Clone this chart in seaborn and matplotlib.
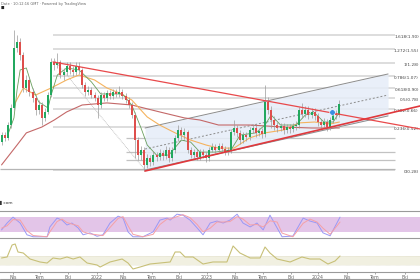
import numpy as np
import pandas as pd
import matplotlib
matplotlib.use("Agg")
import matplotlib.pyplot as plt
import seaborn as sns

sns.set_theme(style="white")
plt.rcParams["font.family"] = ["DejaVu Sans"]

# ---------------- data ----------------
first_open = 0.416
closes = [0.460, 0.441, 0.530, 0.675, 1.580, 1.720, 1.431, 0.896, 1.004, 0.847,
          0.778, 0.656, 0.704, 0.586, 0.638, 0.811, 1.296, 1.242, 1.296, 1.077,
          1.125, 1.224, 1.157, 1.125, 1.224, 1.157, 0.935, 0.847, 0.871, 0.811,
          0.778, 0.704, 0.811, 0.778, 0.835, 0.800, 0.847, 0.823, 0.847, 0.800,
          0.756, 0.704, 0.611, 0.428, 0.346, 0.372, 0.301, 0.332, 0.314, 0.346,
          0.337, 0.356, 0.341, 0.372, 0.332, 0.372, 0.441, 0.494, 0.460, 0.480,
          0.372, 0.346, 0.361, 0.337, 0.361, 0.346, 0.332, 0.372, 0.388, 0.372,
          0.393, 0.377, 0.361, 0.372, 0.480, 0.508, 0.474, 0.428, 0.460, 0.447,
          0.494, 0.508, 0.474, 0.487, 0.467, 0.735, 0.656, 0.569, 0.530, 0.508,
          0.523, 0.494, 0.515, 0.501, 0.523, 0.530, 0.656, 0.620, 0.656, 0.611,
          0.638, 0.603, 0.553, 0.530, 0.553, 0.515, 0.569, 0.629, 0.611, 0.714]
highs = [0.480, 0.480, 0.553, 0.714, 2.040, 1.900, 1.821, 1.493, 1.077, 1.047,
         0.896, 0.811, 0.756, 0.735, 0.675, 0.847, 1.371, 1.371, 1.472, 1.333,
         1.190, 1.296, 1.296, 1.224, 1.296, 1.296, 1.190, 0.976, 0.922, 0.909,
         0.847, 0.811, 0.847, 0.847, 0.871, 0.871, 0.884, 0.884, 0.922, 0.884,
         0.835, 0.789, 0.735, 0.638, 0.447, 0.393, 0.388, 0.351, 0.346, 0.366,
         0.361, 0.377, 0.372, 0.393, 0.388, 0.388, 0.460, 0.530, 0.515, 0.508,
         0.494, 0.388, 0.377, 0.377, 0.377, 0.377, 0.361, 0.388, 0.411, 0.405,
         0.411, 0.411, 0.393, 0.388, 0.501, 0.569, 0.530, 0.494, 0.480, 0.480,
         0.515, 0.538, 0.530, 0.508, 0.508, 0.935, 0.789, 0.694, 0.603, 0.553,
         0.546, 0.546, 0.538, 0.538, 0.546, 0.561, 0.685, 0.725, 0.694, 0.694,
         0.675, 0.675, 0.629, 0.578, 0.586, 0.578, 0.594, 0.656, 0.656, 0.756]
lows = [0.399, 0.422, 0.428, 0.508, 0.656, 1.493, 1.333, 0.847, 0.847, 0.800,
        0.735, 0.611, 0.620, 0.530, 0.561, 0.620, 0.789, 1.157, 1.190, 1.033,
        1.004, 1.077, 1.093, 1.062, 1.077, 1.093, 0.896, 0.800, 0.811, 0.778,
        0.745, 0.586, 0.675, 0.745, 0.745, 0.767, 0.767, 0.789, 0.789, 0.767,
        0.725, 0.675, 0.586, 0.332, 0.323, 0.323, 0.276, 0.288, 0.297, 0.301,
        0.318, 0.323, 0.323, 0.327, 0.314, 0.318, 0.356, 0.422, 0.435, 0.435,
        0.356, 0.332, 0.332, 0.323, 0.323, 0.332, 0.314, 0.318, 0.361, 0.356,
        0.361, 0.361, 0.346, 0.346, 0.356, 0.460, 0.447, 0.405, 0.411, 0.422,
        0.428, 0.474, 0.447, 0.454, 0.441, 0.447, 0.620, 0.508, 0.494, 0.480,
        0.487, 0.467, 0.474, 0.474, 0.480, 0.494, 0.508, 0.586, 0.594, 0.578,
        0.586, 0.569, 0.523, 0.501, 0.508, 0.487, 0.494, 0.546, 0.578, 0.594]

# moving averages (candle index, price)
ma_fast_idx = [2, 4, 5, 6, 8, 10, 12, 15, 16, 18, 21, 25, 29, 32, 36, 39, 42, 45, 47, 50,
               54, 58, 61, 64, 69, 74, 77, 82, 85, 87, 90, 95, 98, 101, 104, 107, 109]
ma_fast = [0.460, 0.586, 0.871, 1.157, 1.190, 0.896, 0.735, 0.675, 0.811, 1.077, 1.190,
           1.157, 0.976, 0.823, 0.823, 0.823, 0.704, 0.508, 0.399, 0.346, 0.346, 0.428,
           0.416, 0.361, 0.361, 0.372, 0.460, 0.474, 0.530, 0.611, 0.530, 0.530, 0.611,
           0.629, 0.553, 0.553, 0.638]
ma_mid_idx = [4, 7, 11, 16, 21, 25, 30, 34, 38, 42, 47, 51, 56, 61, 66, 70, 75, 80, 85,
              91, 96, 101, 106, 109]
ma_mid = [0.704, 0.896, 0.811, 0.896, 1.004, 1.077, 1.004, 0.896, 0.835, 0.756, 0.594,
          0.530, 0.474, 0.428, 0.399, 0.382, 0.382, 0.441, 0.474, 0.494, 0.546, 0.553,
          0.538, 0.553]
ma_slow_idx = [0, 5, 8, 13, 17, 21, 26, 34, 42, 51, 59, 64, 70, 80, 91, 100, 109]
ma_slow = [0.301, 0.399, 0.474, 0.515, 0.569, 0.638, 0.704, 0.725, 0.704, 0.638, 0.586,
           0.569, 0.530, 0.530, 0.515, 0.508, 0.508]

# drawings
fib_low, fib_high = 0.28, 1.28
fib_levels = [0, 0.236, 0.382, 0.5, 0.618, 0.786, 1, 1.272, 1.618]
fib_span = (16.6, 127.0)
support_levels = [0.441, 0.361, 0.323]
base_level = 0.286
res_line = ([16.6, 135.0], [1.296, 0.501])
sup_line = ([46.3, 135.0], [0.276, 0.694])
chan_x = [46.3, 124.7]
chan_upper = [0.508, 1.093]
chan_lower = [0.280, 0.603]
chan_mid = [0.377, 0.811]
fib_diag = ([17.3, 46.3], [1.314, 0.280])
marker_pt = (106.6, 0.638)

# stochastic RSI panel
stoch_x = [0, 1.8, 3.7, 6.0, 8.2, 10.2, 14.7, 15.6, 17.9, 19.5, 21.1, 22.7, 24.7, 26.3,
           28.5, 30.8, 32.7, 35.0, 37.6, 39.2, 40.8, 42.4, 45.6, 48.9, 51.1, 53.4, 54.4,
           56.6, 58.5, 60.8, 63.1, 65.0, 67.3, 69.5, 71.5, 73.7, 76.0, 77.9, 80.2, 82.4,
           84.4, 86.6, 88.9, 90.5, 94.0, 97.3, 99.5, 101.8, 103.7, 106.0, 109.2]
stoch_k = [28, 56, 80, 56, 8, 0, 0, 40, 76, 68, 48, 56, 36, 8, 16, 2, 8, 56, 84, 76, 20,
           0, 0, 20, 68, 76, 68, 92, 88, 68, 36, 8, 56, 64, 56, 68, 92, 56, 40, 56, 28,
           88, 36, 0, 3, 76, 64, 56, 16, 4, 80]
stoch_d = [35, 45, 70, 68, 25, 5, 0, 20, 62, 72, 58, 52, 45, 20, 12, 8, 5, 38, 75, 82,
           45, 10, 0, 10, 50, 72, 72, 82, 90, 78, 50, 20, 35, 60, 60, 62, 82, 72, 48, 50,
           40, 65, 60, 15, 0, 55, 72, 60, 35, 10, 60]
stoch_band = (20, 80)

# lower oscillator panel
osc_x = [0, 1.8, 3.4, 4.4, 5.3, 7.0, 9.2, 12.4, 14.7, 16.6, 18.9, 21.1, 23.1, 25.3, 27.6,
         30.8, 31.8, 35.0, 38.9, 40.8, 42.4, 44.7, 47.9, 51.1, 54.4, 56.0, 57.6, 59.2,
         61.8, 65.0, 68.2, 72.7, 74.7, 76.9, 80.2, 83.4, 85.0, 86.6, 88.9, 93.1, 96.9,
         99.5, 102.7, 105.3, 107.6, 109.2]
osc_vals = [43.8, 46.9, 84.4, 87.5, 62.5, 59.4, 40.6, 31.3, 28.1, 43.8, 40.6, 46.9, 40.6,
            46.9, 28.1, 21.9, 15.6, 31.3, 40.6, 28.1, 9.4, 15.6, 25.0, 28.1, 31.3, 62.5,
            62.5, 46.9, 46.9, 25.0, 31.3, 31.3, 81.3, 59.4, 43.8, 43.8, 78.1, 59.4, 40.6,
            31.3, 46.9, 40.6, 40.6, 25.0, 34.4, 50.0]
osc_band = (22, 50)

tick_labels = ["Nis", "Tem", "Eki", "2022", "Nis", "Tem", "Eki", "2023",
               "Nis", "Tem", "Eki", "2024", "Nis", "Tem", "Eki"]
tick_pos = [3.7, 12.4, 21.5, 30.8, 39.2, 48.5, 57.3, 66.3, 75.3, 84.4, 93.4, 102.1,
            111.5, 120.5, 130.2]

# ---------------- figure ----------------
H = 280.0
fig = plt.figure(figsize=(4.2, 2.8), dpi=100)
fig.patch.set_facecolor("white")


def rect(top, bottom):
    return [0, 1 - bottom / H, 1, (bottom - top) / H]


ax = fig.add_axes(rect(0, 180))
ax_s = fig.add_axes(rect(211, 238), sharex=ax)
ax_o = fig.add_axes(rect(240, 272), sharex=ax)

for a in (ax, ax_s, ax_o):
    a.set_facecolor("white")
    for sp in a.spines.values():
        sp.set_visible(False)
    a.tick_params(left=False, labelleft=False, bottom=False, labelbottom=False)

ax.set_xlim(-0.5, 135.0)
ax.set_yscale("log")
ax.set_ylim(0.243, 3.12)
ax.yaxis.set_major_locator(matplotlib.ticker.NullLocator())
ax.yaxis.set_minor_locator(matplotlib.ticker.NullLocator())

df = pd.DataFrame({"open": [first_open] + closes[:-1], "close": closes,
                   "high": highs, "low": lows})
df["idx"] = np.arange(len(df))
up = df["close"] >= df["open"]

# fib and horizontal levels
fib_prices = [fib_low + l * (fib_high - fib_low) for l in fib_levels]
ax.hlines(fib_prices, fib_span[0], fib_span[1], color="#d3d3d3", lw=1.1, zorder=1)
ax.hlines(support_levels, 40, fib_span[1], color="#c2c2c2", lw=0.9, zorder=1)
ax.hlines([base_level], -0.5, fib_span[1], color="#b5b5b5", lw=0.9, zorder=1)
for l, p in zip(fib_levels, fib_prices):
    ax.text(134.6, p, f"{l:g}({p:.2f})", ha="right", va="top", fontsize=3.1,
            color="#444")

# channel
ax.fill_between(chan_x, chan_lower, chan_upper, color="#e6edf8", alpha=0.85, lw=0,
                zorder=1)
ax.plot(chan_x, chan_upper, color="#8c8c8c", lw=0.7, zorder=2)
ax.plot(chan_x, chan_lower, color="#8c8c8c", lw=0.7, zorder=2)
ax.plot(chan_x, chan_mid, color="#8c8c8c", lw=0.7, ls=(0, (2, 2)), zorder=2)
ax.plot(*fib_diag, color="#b8b8b8", lw=0.6, ls=(0, (1, 1)), zorder=2)

# moving averages via seaborn
sns.lineplot(x=ma_slow_idx, y=ma_slow, ax=ax, color="#c46868", lw=0.8, zorder=3)
sns.lineplot(x=ma_mid_idx, y=ma_mid, ax=ax, color="#f5b35e", lw=0.8, zorder=3)
sns.lineplot(x=ma_fast_idx, y=ma_fast, ax=ax, color="#6a9f5e", lw=0.6, zorder=3)

# candles
ax.vlines(df["idx"], df["low"], df["high"], color="#9a9a9a", lw=0.5, zorder=4)
body_lo = np.minimum(df["open"], df["close"])
body_h = np.abs(df["close"] - df["open"])
ax.bar(df["idx"][up], body_h[up], bottom=body_lo[up], width=0.65,
       color="#22a85f", lw=0, zorder=5)
ax.bar(df["idx"][~up], body_h[~up], bottom=body_lo[~up], width=0.65,
       color="#de4f4c", lw=0, zorder=5)

# trendlines
ax.plot(*res_line, color="#e8494b", lw=0.9, zorder=6)
ax.plot(*sup_line, color="#e0383c", lw=1.2, zorder=6)
ax.scatter([marker_pt[0]], [marker_pt[1]], s=16, color="#3b8ee2",
           edgecolor="white", linewidth=0.4, zorder=7)

# header / watermark text
fig.text(0.002, 1 - 3.5 / H, "Date · 10:12:16 GMT · Powered by TradingView",
         fontsize=2.6, color="#666", va="center", ha="left")
fig.text(0.002, 1 - 7.5 / H, "■", fontsize=2.6, color="#222", va="center", ha="left")
fig.text(0.0, 1 - 203 / H, "▌com", fontsize=3.2, color="#333", va="center", ha="left")

# stochastic panel
ax_s.set_ylim(-5, 105)
ax_s.axhspan(*stoch_band, color="#e3c5e8", lw=0, zorder=0)
sns.lineplot(x=stoch_x, y=stoch_k, ax=ax_s, color="#9a98f5", lw=0.7)
sns.lineplot(x=stoch_x, y=stoch_d, ax=ax_s, color="#f5a0a6", lw=0.7)
for k in ("top", "bottom"):
    ax_s.spines[k].set_visible(True)
    ax_s.spines[k].set_color("#9a9a9a")
    ax_s.spines[k].set_linewidth(0.8)

# oscillator panel
ax_o.set_ylim(0, 100)
ax_o.axhspan(*osc_band, color="#f1f0e1", lw=0, zorder=0)
ax_o.axhline(osc_band[0], color="#d8d6c0", lw=0.4, ls=(0, (1, 1)))
ax_o.axhline(osc_band[1], color="#d8d6c0", lw=0.4, ls=(0, (1, 1)))
sns.lineplot(x=osc_x, y=osc_vals, ax=ax_o, color="#c8c078", lw=0.8)
ax_o.spines["bottom"].set_visible(True)
ax_o.spines["bottom"].set_color("#9a9a9a")
ax_o.spines["bottom"].set_linewidth(0.8)
ax_o.set_xticks(tick_pos)
ax_o.set_xticklabels(tick_labels)
ax_o.tick_params(bottom=True, labelbottom=True, length=1.5, width=0.4, pad=1.0,
                 labelsize=3.4, colors="#666")
ax_o.set_xlim(-0.5, 135.0)
for a in (ax_s, ax_o, ax):
    a.set_ylabel("")
    a.set_xlabel("")
ax.tick_params(left=False, labelleft=False, bottom=False, labelbottom=False)
ax_s.tick_params(left=False, labelleft=False, bottom=False, labelbottom=False)
ax_o.tick_params(left=False, labelleft=False)

fig.add_artist(matplotlib.lines.Line2D([0, 1], [1 - 279 / H, 1 - 279 / H],
                                       color="#9a9a9a", lw=0.8))

fig.savefig("out.png", dpi=100)
